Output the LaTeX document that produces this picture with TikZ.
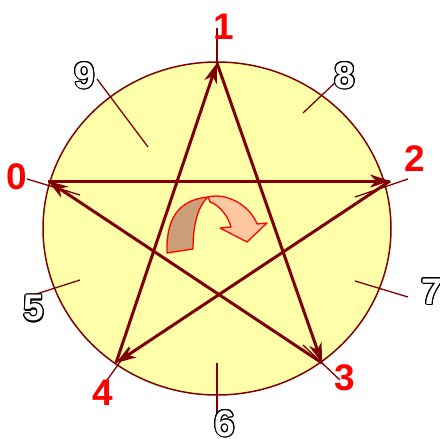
\documentclass[tikz,border=0pt]{standalone}
\usepackage{fontspec}
\setmainfont{Liberation Sans}
\usepackage[copies]{contour}
\contourlength{1.1pt}
\usetikzlibrary{arrows.meta}
\definecolor{dred}{HTML}{800000}
\definecolor{pyellow}{HTML}{FFFFAA}
\definecolor{tanc}{HTML}{CC9E78}
\definecolor{salmonc}{HTML}{FFC8A0}
\tikzset{
  starline/.style={dred, line width=3pt, -{Stealth[length=20pt, width=13pt, inset=6pt]}},
  tickline/.style={dred, line width=1.3pt},
  redlab/.style={inner sep=0pt, text=red, font=\fontsize{37}{37}\selectfont\bfseries},
  outlab/.style={inner sep=0pt, font=\fontsize{37}{37}\selectfont\bfseries},
  bandout/.style={draw=red, line width=1.3pt, line join=round}
}
\begin{document}
\begin{tikzpicture}[x=1pt,y=-1pt]
\useasboundingbox (0,0) rectangle (440,439);
% circle
\draw[dred, line width=1.5pt, fill=pyellow] (217,228.5) ellipse [x radius=174, y radius=166.5];
% star vertices
\coordinate (v1) at (217,63);
\coordinate (v0) at (48,181);
\coordinate (v2) at (390,181);
\coordinate (v3) at (322,363);
\coordinate (v4) at (116,363);
% tick line end points
\coordinate (t1a) at (217,28);   \coordinate (t1b) at (217,63);
\coordinate (t0a) at (27,179);   \coordinate (t0b) at (80,195);
\coordinate (t2a) at (408,179);  \coordinate (t2b) at (355,197);
\coordinate (t3a) at (303,345);  \coordinate (t3b) at (340,380);
\coordinate (t4a) at (130,348);  \coordinate (t4b) at (95,397);
\coordinate (t5a) at (27,297);   \coordinate (t5b) at (80,280);
\coordinate (t6a) at (217,363);  \coordinate (t6b) at (217,433);
\coordinate (t7a) at (355,281);  \coordinate (t7b) at (408,297);
\coordinate (t8a) at (340,78);   \coordinate (t8b) at (303,113);
\coordinate (t9a) at (97,79);    \coordinate (t9b) at (148,147);
\foreach \i in {0,...,9} {\draw[tickline] (t\i a) -- (t\i b);}
% star
\draw[starline] (v4) -- (v1);
\draw[starline] (v1) -- (v3);
\draw[starline] (v3) -- (v0);
\draw[starline] (v0) -- (v2);
\draw[starline] (v2) -- (v4);
% curved arrow
\path[bandout, fill=salmonc] (208,197) .. controls (228,192) and (251,207) .. (257,224)
  -- (267,223) -- (247,242) -- (220,228) -- (231,227)
  .. controls (229,218) and (220,205) .. (210,202) -- cycle;
\path[bandout, fill=tanc] (167,253) .. controls (166,222) and (176,200) .. (208,197)
  .. controls (199,205) and (193,222) .. (193,249) -- cycle;
% labels
\node[redlab] (l1) at (224,27) {1};
\node[redlab] (l0) at (17,177) {0};
\node[redlab] (l2) at (415,159) {2};
\node[redlab] (l3) at (345,378) {3};
\node[redlab] (l4) at (103,393) {4};
\node[outlab] (l5) at (34,309) {\contour{black}{\textcolor{white}{5}}};
\node[outlab] (l6) at (225,424) {\contour{black}{\textcolor{white}{6}}};
\node[outlab] (l7) at (432,292) {\contour{black}{\textcolor{white}{7}}};
\node[outlab] (l8) at (345,76) {\contour{black}{\textcolor{white}{8}}};
\node[outlab] (l9) at (85,76) {\contour{black}{\textcolor{white}{9}}};
\end{tikzpicture}
\end{document}
